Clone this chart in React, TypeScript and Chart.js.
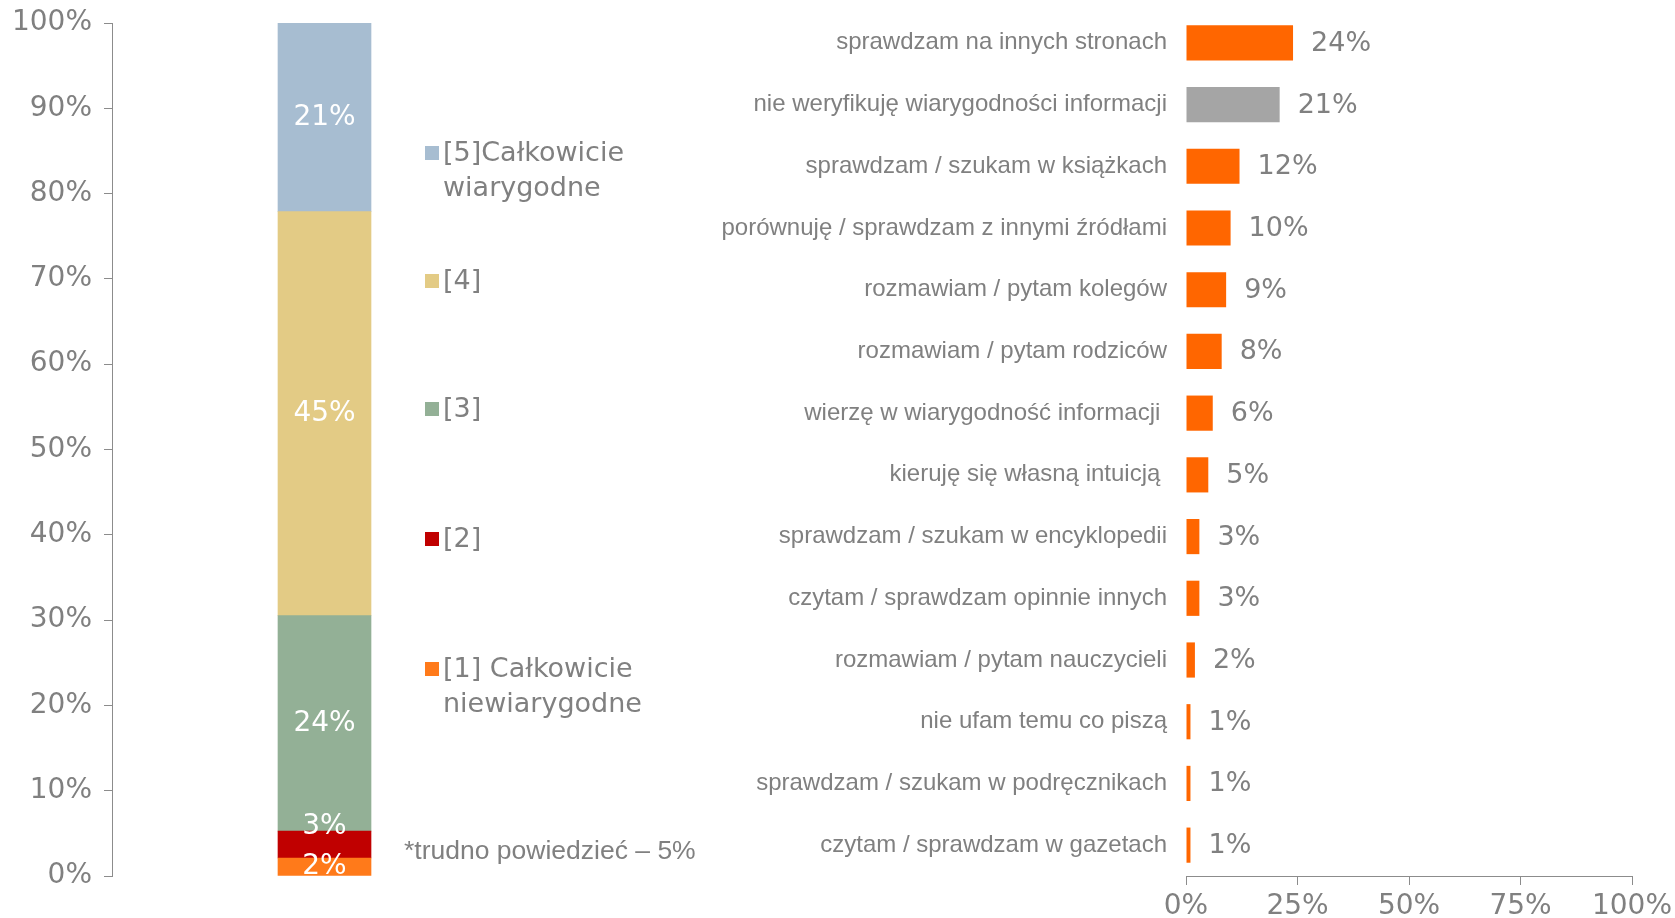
import React, { useEffect, useRef } from "react";
import { Chart, registerables } from "chart.js";

Chart.register(...registerables);

// ---- Left chart data (ocena wiarygodności) ----
const ratingLabels = ["[1] Całkowicie niewiarygodne", "[2]", "[3]", "[4]", "[5]Całkowicie wiarygodne"];
const ratingLegendLines = [
  ["[1] Całkowicie", "niewiarygodne"],
  ["[2]"],
  ["[3]"],
  ["[4]"],
  ["[5]Całkowicie", "wiarygodne"],
];
const ratingValues = [2, 3, 24, 45, 21];
const ratingColors = ["#FF7A1A", "#C00000", "#93B096", "#E3CB85", "#A7BDD1"];
const leftTicks = [0, 10, 20, 30, 40, 50, 60, 70, 80, 90, 100];
const footnote = "*trudno powiedzieć – 5%";

// ---- Right chart data (sposoby weryfikacji) ----
const methodLabels = [
  "sprawdzam na innych stronach",
  "nie weryfikuję wiarygodności informacji",
  "sprawdzam / szukam w książkach",
  "porównuję / sprawdzam z innymi źródłami",
  "rozmawiam / pytam kolegów",
  "rozmawiam / pytam rodziców",
  "wierzę w wiarygodność informacji ",
  "kieruję się własną intuicją ",
  "sprawdzam / szukam w encyklopedii",
  "czytam / sprawdzam opinnie innych",
  "rozmawiam / pytam nauczycieli",
  "nie ufam temu co piszą",
  "sprawdzam / szukam w podręcznikach",
  "czytam / sprawdzam w gazetach",
];
const methodValues = [24, 21, 12, 10, 9, 8, 6, 5, 3, 3, 2, 1, 1, 1];
const methodColors = methodValues.map((_, i) => (i === 1 ? "#A5A5A5" : "#FF6600"));
const rightTicks = [0, 25, 50, 75, 100];

const GREY = "#808080";
const AXIS = "#8C8C8C";
const NUM_FONT = "'DejaVu Sans', Verdana, sans-serif";
const TXT_FONT = "'Liberation Sans', Arial, sans-serif";

const ratingTotal = ratingValues.reduce((a, b) => a + b, 0);

export default function App() {
  const leftRef = useRef<HTMLCanvasElement | null>(null);
  const rightRef = useRef<HTMLCanvasElement | null>(null);

  useEffect(() => {
    document.body.style.margin = "0";
    const leftPlugin = {
      id: "leftDeco",
      afterDatasetsDraw(chart: any) {
        const ctx = chart.ctx;
        ctx.save();
        // data labels
        ctx.fillStyle = "#FFFFFF";
        ctx.font = `28px ${NUM_FONT}`;
        ctx.textAlign = "center";
        ctx.textBaseline = "middle";
        chart.data.datasets.forEach((ds: any, di: number) => {
          const el = chart.getDatasetMeta(di).data[0];
          const yc = (el.y + el.base) / 2 + (di === 1 ? -18 : 0);
          ctx.fillText(ratingValues[di] + "%", el.x, yc);
        });
        // legend
        const legendX = 425;
        const legendY = [669, 539, 409, 281, 153];
        ctx.textAlign = "left";
        ctx.textBaseline = "middle";
        ctx.font = `27px ${NUM_FONT}`;
        ratingLegendLines.forEach((lines, i) => {
          ctx.fillStyle = ratingColors[i];
          ctx.fillRect(legendX, legendY[i] - 7, 14, 14);
          ctx.fillStyle = GREY;
          lines.forEach((ln, k) => {
            ctx.fillText(ln, legendX + 18, legendY[i] + 1 + k * 35);
          });
        });
        // footnote
        ctx.font = `26.5px ${TXT_FONT}`;
        ctx.fillText(footnote, 404, 852);
        ctx.restore();
      },
    };

    const left = new Chart(leftRef.current!, {
      type: "bar",
      data: {
        labels: [""],
        datasets: ratingLabels.map((lab, i) => ({
          label: lab,
          data: [(ratingValues[i] / ratingTotal) * 100],
          backgroundColor: ratingColors[i],
          borderWidth: 0,
          barThickness: 93,
        })),
      },
      options: {
        animation: false,
        responsive: false,
        layout: { padding: { top: 23, bottom: 42, right: 183, left: 0 } },
        plugins: { legend: { display: false }, tooltip: { enabled: false } },
        scales: {
          x: { stacked: true, display: false },
          y: {
            stacked: true,
            min: 0,
            max: 100,
            afterFit: (s: any) => {
              s.width = 112;
              s.paddingTop = 0;
              s.paddingBottom = 0;
            },
            afterBuildTicks: (s: any) => {
              s.ticks = leftTicks.map((v) => ({ value: v }));
            },
            ticks: {
              color: GREY,
              font: { family: NUM_FONT, size: 28 },
              padding: 12,
              callback: (v: any) => v + "%",
            },
            grid: { drawOnChartArea: false, drawTicks: true, tickLength: 8, color: AXIS },
            border: { display: true, color: AXIS, width: 1 },
          },
        },
      },
      plugins: [leftPlugin],
    });

    const rightPlugin = {
      id: "rightLabels",
      afterDatasetsDraw(chart: any) {
        const ctx = chart.ctx;
        ctx.save();
        ctx.fillStyle = GREY;
        ctx.font = `27px ${NUM_FONT}`;
        ctx.textAlign = "left";
        ctx.textBaseline = "middle";
        const meta = chart.getDatasetMeta(0);
        meta.data.forEach((el: any, i: number) => {
          ctx.fillText(methodValues[i] + "%", el.x + 18, el.y + 1);
        });
        ctx.restore();
      },
    };

    const right = new Chart(rightRef.current!, {
      type: "bar",
      data: {
        labels: methodLabels,
        datasets: [
          {
            label: "odpowiedzi",
            data: methodValues,
            backgroundColor: methodColors,
            borderWidth: 0,
            barPercentage: 0.57,
            categoryPercentage: 1,
          },
        ],
      },
      options: {
        indexAxis: "y",
        animation: false,
        responsive: false,
        layout: { padding: { top: 12, bottom: 0, right: 43, left: 0 } },
        plugins: { legend: { display: false }, tooltip: { enabled: false } },
        scales: {
          y: {
            afterFit: (s: any) => {
              s.width = 466;
              s.paddingTop = 0;
              s.paddingBottom = 0;
            },
            ticks: {
              color: GREY,
              font: { family: TXT_FONT, size: 24 },
              padding: 19,
            },
            grid: { display: false, drawTicks: false },
            border: { display: false },
          },
          x: {
            min: 0,
            max: 100,
            afterFit: (s: any) => {
              s.height = 42;
              s.paddingLeft = 0;
              s.paddingRight = 0;
            },
            afterBuildTicks: (s: any) => {
              s.ticks = rightTicks.map((v) => ({ value: v }));
            },
            ticks: {
              color: GREY,
              font: { family: NUM_FONT, size: 28 },
              padding: 5,
              maxRotation: 0,
              callback: (v: any) => v + "%",
            },
            grid: { drawOnChartArea: false, drawTicks: true, tickLength: 9, color: AXIS },
            border: { display: true, color: AXIS, width: 1 },
          },
        },
      },
      plugins: [rightPlugin],
    });

    return () => {
      left.destroy();
      right.destroy();
    };
  }, []);

  return (
    <div style={{ position: "relative", width: 1675, height: 918, background: "#fff", overflow: "hidden" }}>
      <canvas
        ref={leftRef}
        width={720}
        height={918}
        style={{ position: "absolute", left: 0, top: 0, width: 720, height: 918 }}
      />
      <canvas
        ref={rightRef}
        width={955}
        height={918}
        style={{ position: "absolute", left: 720, top: 0, width: 955, height: 918 }}
      />
    </div>
  );
}
